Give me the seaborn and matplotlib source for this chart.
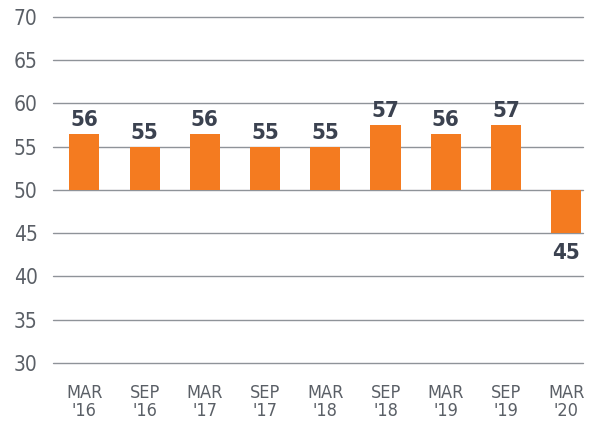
import numpy as np
import pandas as pd
import seaborn as sns
import matplotlib.pyplot as plt
from matplotlib import font_manager

# --- DATA ---
periods = ["MAR\n'16", "SEP\n'16", "MAR\n'17", "SEP\n'17", "MAR\n'18",
           "SEP\n'18", "MAR\n'19", "SEP\n'19", "MAR\n'20"]
index_values = [56.5, 55.0, 56.5, 55.0, 55.0, 57.5, 56.5, 57.5, 45.0]
value_labels = ["56", "55", "56", "55", "55", "57", "56", "57", "45"]
baseline = 50
y_ticks = [30, 35, 40, 45, 50, 55, 60, 65, 70]
# ------------

ORANGE = "#F47B20"
GRID = "#8f9399"
LABEL_DARK = "#3b4250"
TICK_GRAY = "#5a5f66"

sns.set_theme(style="white")
plt.rcParams["font.family"] = ["DejaVu Sans"]
# use the condensed cut of DejaVu if the system has it
condensed = [f for f in font_manager.fontManager.ttflist
             if f.name == "DejaVu Sans" and "ondensed" in str(f.stretch) + f.fname]
if condensed:
    plt.rcParams["font.stretch"] = "condensed"

df = pd.DataFrame({"period": periods,
                   "delta": np.array(index_values) - baseline})

fig = plt.figure(figsize=(5.89, 4.24), dpi=100)
ax = fig.add_axes([0.09, 0.144, 0.90, 0.816])

# horizontal rules (not clipped so the 30 and 70 lines show in full)
for t in y_ticks:
    ax.axhline(t, color=GRID, linewidth=1.0, zorder=0, clip_on=False)

sns.barplot(data=df, x="period", y="delta", bottom=baseline, color=ORANGE,
            saturation=1, width=0.5, linewidth=0, ax=ax, zorder=2)

for i, (v, lab) in enumerate(zip(index_values, value_labels)):
    if v >= baseline:
        ax.annotate(lab, (i, v), xytext=(0, 3), textcoords="offset points",
                    ha="center", va="bottom", fontsize=16, fontweight="bold",
                    color=LABEL_DARK)
    else:
        ax.annotate(lab, (i, v), xytext=(0, -7), textcoords="offset points",
                    ha="center", va="top", fontsize=16, fontweight="bold",
                    color=LABEL_DARK)

ax.set_ylim(30, 70)
ax.set_xlim(-0.52, 8.28)
ax.set_yticks(y_ticks)
ax.set_xlabel("")
ax.set_ylabel("")
ax.tick_params(axis="y", length=0, pad=11, labelsize=15, labelcolor=TICK_GRAY)
ax.tick_params(axis="x", length=0, pad=15, labelsize=13, labelcolor=TICK_GRAY)
for lbl in ax.get_xticklabels():
    lbl.set_linespacing(1.05)
sns.despine(ax=ax, left=True, bottom=True)

fig.savefig("out.png", dpi=100)
